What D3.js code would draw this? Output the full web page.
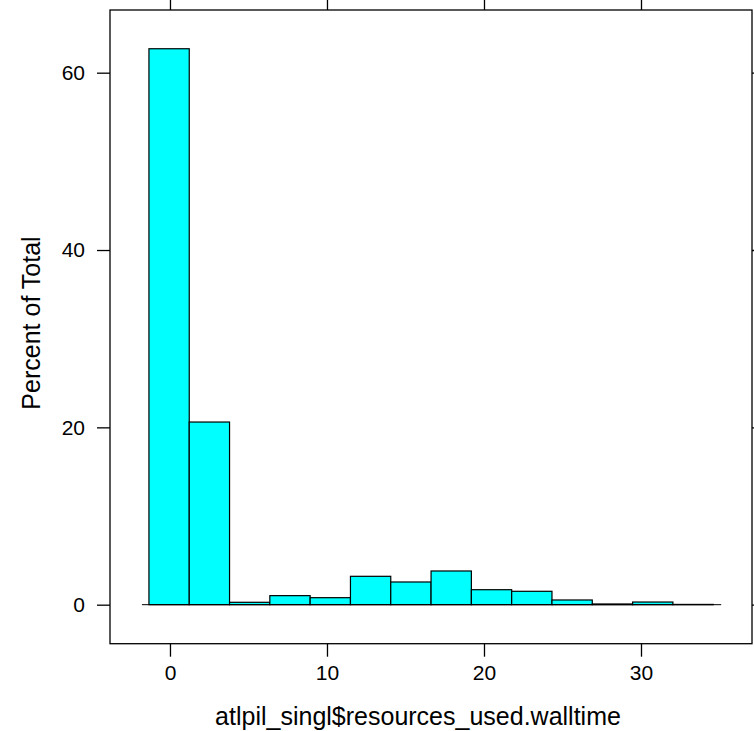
<!DOCTYPE html>
<html>
<head>
    <title>Histogram of walltime</title>
    <script src="https://d3js.org/d3.v7.min.js"></script>
    <style>
        body {
            margin: 0;
            padding: 0;
            background: white;
            font-family: "Liberation Sans", Arial, Helvetica, sans-serif;
        }
        svg { display: block; }
    </style>
</head>
<body>
    <div id="chart"></div>

    <script>
        const width = 754, height = 731;
        const margin = {top: 10, right: 2, bottom: 87.3, left: 110};

        // bin edges (walltime) and percent of total per bin
        const binStart = -1.34;
        const binWidth = 2.567;
        const percents = [62.7, 20.6, 0.27, 1.02, 0.79, 3.2, 2.56, 3.8, 1.69, 1.51, 0.53, 0.08, 0.3, 0.03];
        const xTicks = [0, 10, 20, 30];
        const yTicks = [0, 20, 40, 60];
        const xDomain = [-3.82, 37.07];
        const yDomain = [-4.4, 67.07];
        const xTitle = "atlpil_singl$resources_used.walltime";
        const yTitle = "Percent of Total";

        const bins = percents.map((p, i) => ({
            x0: binStart + i * binWidth,
            x1: binStart + (i + 1) * binWidth,
            value: p
        }));

        var xScale = d3.scaleLinear().domain(xDomain).range([margin.left, width - margin.right]);
        var yScale = d3.scaleLinear().domain(yDomain).range([height - margin.bottom, margin.top]);

        var svg = d3.select("#chart").append("svg")
            .attr("width", width)
            .attr("height", height);

        // bars
        svg.selectAll(".bar")
            .data(bins)
            .enter().append("rect")
            .attr("class", "bar")
            .attr("x", d => xScale(d.x0))
            .attr("y", d => yScale(d.value))
            .attr("width", d => xScale(d.x1) - xScale(d.x0))
            .attr("height", d => yScale(0) - yScale(d.value))
            .style("fill", "#00ffff")
            .style("stroke", "black")
            .style("stroke-width", 1.2);

        // baseline under the bars
        svg.append("line")
            .attr("x1", xScale(binStart) - 7)
            .attr("x2", xScale(binStart + percents.length * binWidth) + 8)
            .attr("y1", yScale(0))
            .attr("y2", yScale(0))
            .style("stroke", "black")
            .style("stroke-width", 1);

        // panel box
        svg.append("rect")
            .attr("x", margin.left)
            .attr("y", margin.top)
            .attr("width", width - margin.left - margin.right)
            .attr("height", height - margin.top - margin.bottom)
            .style("fill", "none")
            .style("stroke", "black")
            .style("stroke-width", 1.3);

        const tickLen = 13;
        const axisFont = "21px";

        // bottom axis
        svg.append("g")
            .attr("transform", "translate(0," + (height - margin.bottom) + ")")
            .call(d3.axisBottom(xScale).tickValues(xTicks).tickSize(tickLen).tickPadding(8).tickFormat(d3.format("d")))
            .call(g => g.select(".domain").remove())
            .call(g => g.selectAll("line").style("stroke-width", 1.3))
            .call(g => g.selectAll("text").style("font-size", axisFont).style("font-family", "Liberation Sans, Arial, sans-serif"));

        // top axis (ticks only)
        svg.append("g")
            .attr("transform", "translate(0," + margin.top + ")")
            .call(d3.axisTop(xScale).tickValues(xTicks).tickSize(tickLen).tickFormat(""))
            .call(g => g.select(".domain").remove())
            .call(g => g.selectAll("line").style("stroke-width", 1.3));

        // left axis
        svg.append("g")
            .attr("transform", "translate(" + margin.left + ",0)")
            .call(d3.axisLeft(yScale).tickValues(yTicks).tickSize(tickLen).tickPadding(12).tickFormat(d3.format("d")))
            .call(g => g.select(".domain").remove())
            .call(g => g.selectAll("line").style("stroke-width", 1.3))
            .call(g => g.selectAll("text").style("font-size", axisFont).style("font-family", "Liberation Sans, Arial, sans-serif"));

        // right axis (ticks only)
        svg.append("g")
            .attr("transform", "translate(" + (width - margin.right) + ",0)")
            .call(d3.axisRight(yScale).tickValues(yTicks).tickSize(tickLen).tickFormat(""))
            .call(g => g.select(".domain").remove())
            .call(g => g.selectAll("line").style("stroke-width", 1.3));

        // X-axis title
        svg.append("text")
            .attr("x", 418)
            .attr("y", 725)
            .style("text-anchor", "middle")
            .style("font-size", "25px")
            .text(xTitle);

        // Y-axis title
        svg.append("text")
            .attr("transform", "translate(40,323) rotate(-90)")
            .style("text-anchor", "middle")
            .style("font-size", "25px")
            .text(yTitle);
    </script>
</body>
</html>
